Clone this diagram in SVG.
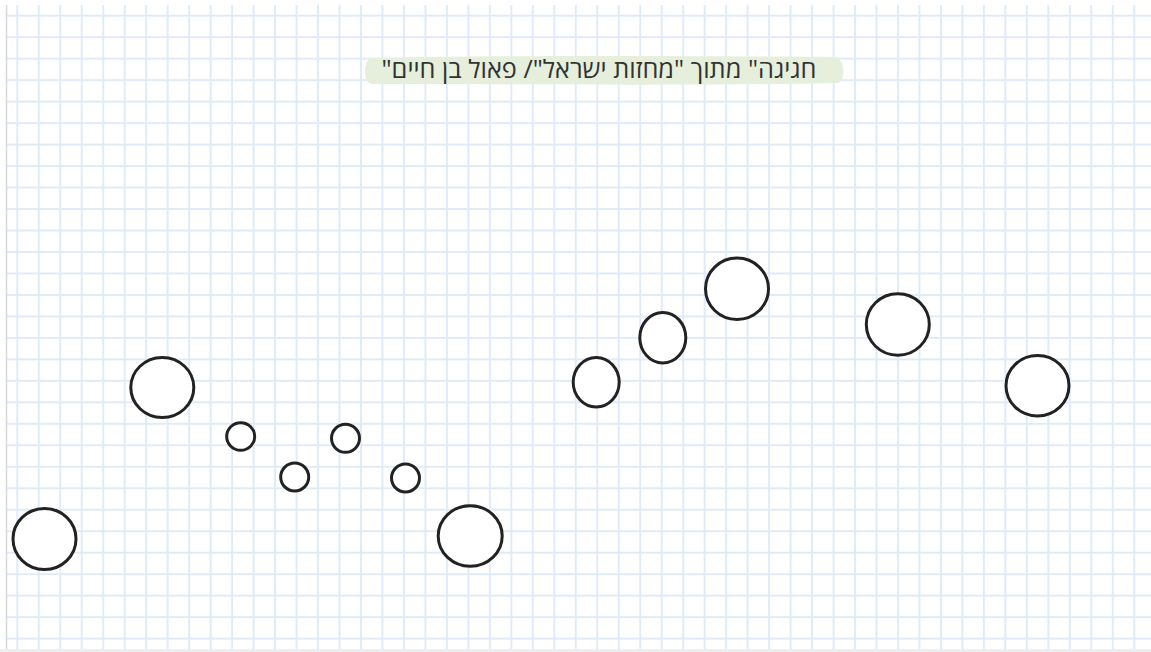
<svg xmlns="http://www.w3.org/2000/svg" width="1151" height="652" viewBox="0 0 1151 652">
<defs>
<style>
.node ellipse{fill:#fff;stroke:#222;stroke-width:3}
.title{font-family:"Open Sans","DejaVu Sans","Liberation Sans",sans-serif;font-size:25px;fill:#333}
</style>
<pattern id="grid" patternUnits="userSpaceOnUse" x="6.56" y="4.96" width="21.48" height="21.48">
<rect x="9.74" y="0" width="2" height="21.48" fill="#e0ebfa"/>
<rect x="0" y="9.74" width="21.48" height="2" fill="#e0ebfa"/>
</pattern>
</defs>
<rect width="1151" height="652" fill="#fff"/>
<rect x="6.5" y="5" width="1144.5" height="644" fill="url(#grid)"/>
<line x1="6.5" y1="5" x2="6.5" y2="649" stroke="#d8d8d8" stroke-width="1.5"/>
<rect x="0" y="649" width="1151" height="3" fill="#eeeeee"/>
<g id="connectors"/>
<g id="title">
<path d="M372,58 C500,55 700,56 836,57 C845,60 846,80 838,83 C700,86 500,84 372,84 C363,83 362,61 372,58 Z" fill="#e5efdc"/>
<text class="title" x="599" y="78" text-anchor="middle" textLength="435" lengthAdjust="spacingAndGlyphs">"חגיגה" מתוך "מחזות ישראל"/ פאול בן חיים</text>
</g>
<g id="n1" class="node"><ellipse cx="44.5" cy="539" rx="31.5" ry="30.5"/></g>
<g id="n2" class="node"><ellipse cx="162.3" cy="387.5" rx="31.5" ry="30"/></g>
<g id="n3" class="node"><ellipse cx="240.7" cy="436.5" rx="14" ry="13.8"/></g>
<g id="n4" class="node"><ellipse cx="294.7" cy="477" rx="14" ry="14"/></g>
<g id="n5" class="node"><ellipse cx="345.5" cy="438.3" rx="14" ry="14"/></g>
<g id="n6" class="node"><ellipse cx="405.5" cy="478" rx="14" ry="14"/></g>
<g id="n7" class="node"><ellipse cx="470.2" cy="536" rx="32" ry="30.3"/></g>
<g id="n8" class="node"><ellipse cx="596.2" cy="382.2" rx="23" ry="24.7"/></g>
<g id="n9" class="node"><ellipse cx="662.8" cy="337.7" rx="23" ry="25.2"/></g>
<g id="n10" class="node"><ellipse cx="737" cy="288.8" rx="31.5" ry="30.7"/></g>
<g id="n11" class="node"><ellipse cx="897.8" cy="324.5" rx="31.5" ry="30.7"/></g>
<g id="n12" class="node"><ellipse cx="1037.5" cy="385.7" rx="31.5" ry="30.2"/></g>
</svg>
